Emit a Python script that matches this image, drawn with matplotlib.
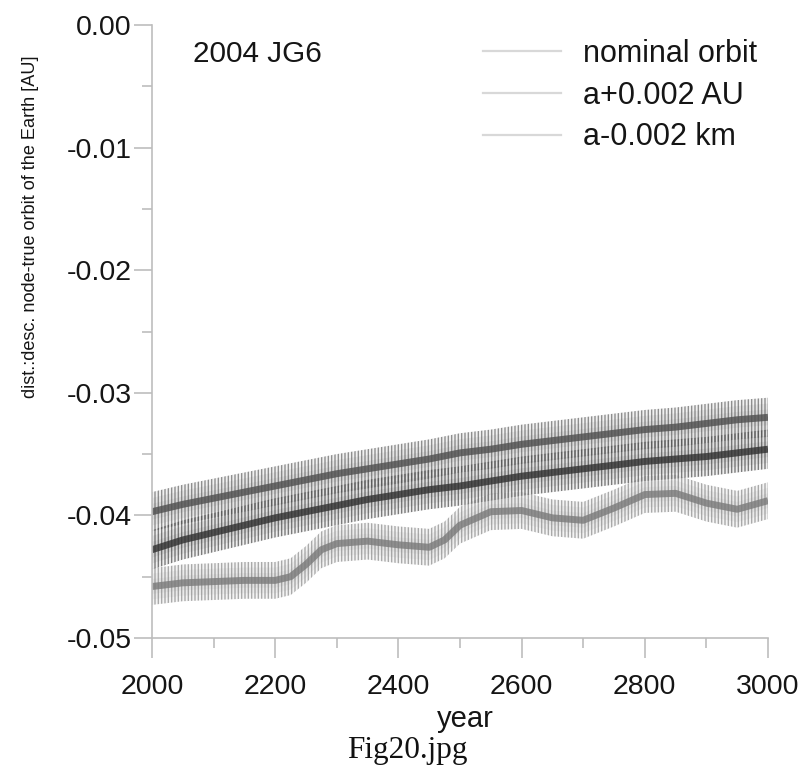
import matplotlib
matplotlib.use("Agg")
import matplotlib.pyplot as plt
from matplotlib.lines import Line2D
import numpy as np
import warnings
warnings.filterwarnings("ignore")

# ---- data ----
years = [2000, 2050, 2100, 2150, 2200, 2250, 2300, 2350, 2400, 2450, 2500,
         2550, 2600, 2650, 2700, 2750, 2800, 2850, 2900, 2950, 3000]
nominal = [-0.0428, -0.0420, -0.0414, -0.0408, -0.0402, -0.0397, -0.0392,
           -0.0387, -0.0383, -0.0379, -0.0376, -0.0372, -0.0368, -0.0365,
           -0.0362, -0.0359, -0.0356, -0.0354, -0.0352, -0.0349, -0.0346]
a_plus = [-0.0397, -0.0391, -0.0386, -0.0381, -0.0376, -0.0371, -0.0366,
          -0.0362, -0.0358, -0.0354, -0.0349, -0.0346, -0.0342, -0.0339,
          -0.0336, -0.0333, -0.0330, -0.0328, -0.0325, -0.0322, -0.0320]
years_minus = [2000, 2050, 2100, 2150, 2200, 2225, 2250, 2275, 2300, 2350,
               2400, 2450, 2475, 2500, 2550, 2600, 2650, 2700, 2750, 2800,
               2850, 2900, 2950, 3000]
a_minus = [-0.0458, -0.0455, -0.0454, -0.0453, -0.0453, -0.0450, -0.0440,
           -0.0428, -0.0423, -0.0421, -0.0424, -0.0426, -0.0420, -0.0408,
           -0.0397, -0.0396, -0.0402, -0.0404, -0.0394, -0.0383, -0.0382,
           -0.0390, -0.0395, -0.0388]
half_width = [0.0016, 0.0016, 0.0015]   # spread of the short-period oscillation
labels = ["nominal orbit", "a+0.002 AU", "a-0.002 km"]
x_ticks = [2000, 2200, 2400, 2600, 2800, 3000]
y_ticks = [0.00, -0.01, -0.02, -0.03, -0.04, -0.05]

W, H = 812, 774
SANS = ["Liberation Sans", "DejaVu Sans"]
plt.rcParams['font.family'] = SANS
plt.rcParams['hatch.linewidth'] = 1.0

fig = plt.figure(figsize=(W / 100, H / 100), dpi=100)
L, R, T, B = 152, 768, 25, 638
ax = fig.add_axes([L / W, 1 - B / H, (R - L) / W, (B - T) / H])

series = [(years, nominal, "#303030", half_width[0]),
          (years, a_plus, "#4e4e4e", half_width[1]),
          (years_minus, a_minus, "#7a7a7a", half_width[2])]
for xs, ys, col, hw in series:
    xs = np.asarray(xs, float)
    ys = np.asarray(ys, float)
    for f in (1.0, 0.7, 0.4):
        ax.fill_between(xs, ys - hw * f, ys + hw * f, facecolor=col,
                        alpha=0.08, linewidth=0)
    ax.fill_between(xs, ys - hw, ys + hw, facecolor="none", edgecolor=col,
                    hatch="|||||", linewidth=0, alpha=0.6)
    ax.plot(xs, ys, color=col, lw=5.0, alpha=0.8, solid_capstyle="butt")

ax.set_xlim(2000, 3000)
ax.set_ylim(-0.05, 0.0)
ax.set_xticks(x_ticks)
ax.set_xticks(np.arange(2100, 3000, 200), minor=True)
ax.set_yticks(y_ticks)
ax.set_yticks([-0.005, -0.015, -0.025, -0.035, -0.045], minor=True)
ax.set_xticklabels([str(v) for v in x_ticks])
ax.set_yticklabels(["%.2f" % v for v in y_ticks])
for s in ["top", "right"]:
    ax.spines[s].set_visible(False)
for s in ["left", "bottom"]:
    ax.spines[s].set_color("#bdbdbd")
    ax.spines[s].set_linewidth(1.2)
ax.tick_params(which="both", direction="out", color="#bdbdbd", width=1.2,
               labelsize=20.5, labelcolor="#151515")
ax.tick_params(axis="x", which="major", length=14.4, pad=11.5)
ax.tick_params(axis="x", which="minor", length=7)
ax.tick_params(axis="y", which="major", length=13, pad=1.5)
ax.tick_params(axis="y", which="minor", length=7)

ax.set_xlabel("year", fontsize=21, color="#151515")
ax.xaxis.label.set_va("baseline")
ax.xaxis.set_label_coords((465 - L) / (R - L), -(727 - B) / (B - T))

# y label: fit its length to the reference (about 315 px, slightly longer)
ylab = ax.set_ylabel("dist.:desc. node-true orbit of the Earth [AU]",
                     family=["Noto Sans Condensed", "Liberation Sans Narrow",
                             "DejaVu Sans Condensed", "Liberation Sans"],
                     fontstretch="condensed", fontsize=16, color="#151515")
ylab.set_va("center")
ax.yaxis.set_label_coords(-(L - 31) / (R - L), (B - 227) / (B - T))
fig.canvas.draw()
ext = ylab.get_window_extent(fig.canvas.get_renderer())
ylab.set_fontsize(16 * 345.0 / ext.height)

ax.text((193 - L) / (R - L), 1 - (62 - T) / (B - T), "2004 JG6",
        fontsize=21.4, color="#151515", va="baseline", ha="left",
        transform=ax.transAxes)

handles = [Line2D([], [], color="#d8d8d8", lw=1.6) for _ in labels]
leg = ax.legend(handles, labels, loc="upper left", frameon=False,
                fontsize=22, handlelength=2.55, handletextpad=0.72,
                labelspacing=0.38, borderpad=0, borderaxespad=0,
                bbox_to_anchor=(483 / W, 1 - 39 / H),
                bbox_transform=fig.transFigure)
for t in leg.get_texts():
    t.set_color("#151515")

fig.text(407 / W, 1 - 758 / H, "Fig20.jpg", family="Liberation Serif",
         fontsize=22.5, ha="center", va="baseline", color="#111111")

fig.savefig("out.png", dpi=100, facecolor="white")
